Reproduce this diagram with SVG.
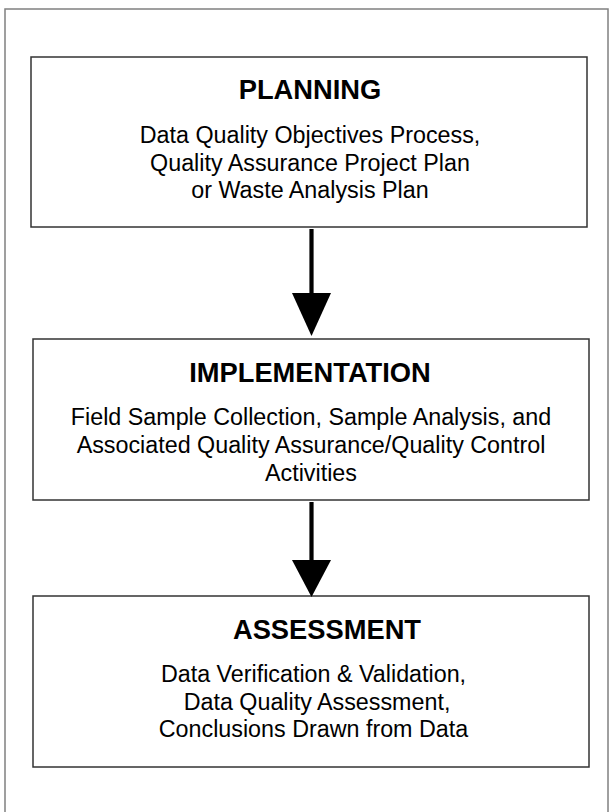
<svg xmlns="http://www.w3.org/2000/svg" width="613" height="812" viewBox="0 0 613 812">
<style>
.frame{fill:none;stroke:#808080;stroke-width:1.5}
.box{fill:#fff;stroke:#333;stroke-width:1.5}
.title{font-family:"Liberation Sans",Arial,sans-serif;font-weight:bold;font-size:27.3px;fill:#000;text-anchor:middle}
.body{font-family:"Liberation Sans",Arial,sans-serif;font-size:23.3px;fill:#000;text-anchor:middle}
.shaft{stroke:#000;stroke-width:4.2;fill:none}
.head{fill:#000}
</style>
<rect width="613" height="812" fill="#fff"/>
<rect class="frame" x="5" y="9" width="603" height="820"/>
<g id="planning">
<rect class="box" x="31" y="57" width="556" height="170"/>
<text class="title" x="310" y="99">PLANNING</text>
<text class="body" x="310" y="143">Data Quality Objectives Process,</text>
<text class="body" x="310" y="170.5">Quality Assurance Project Plan</text>
<text class="body" x="310" y="198">or Waste Analysis Plan</text>
</g>
<g id="implementation">
<rect class="box" x="33" y="339" width="556" height="161"/>
<text class="title" x="310" y="382">IMPLEMENTATION</text>
<text class="body" x="311" y="425">Field Sample Collection, Sample Analysis, and</text>
<text class="body" x="311" y="453">Associated Quality Assurance/Quality Control</text>
<text class="body" x="311" y="481">Activities</text>
</g>
<g id="assessment">
<rect class="box" x="33" y="596" width="556" height="171"/>
<text class="title" x="327" y="639">ASSESSMENT</text>
<text class="body" x="313.5" y="682">Data Verification &amp; Validation,</text>
<text class="body" x="317" y="709.5">Data Quality Assessment,</text>
<text class="body" x="313.5" y="737">Conclusions Drawn from Data</text>
</g>
<g id="connectors">
<line class="shaft" x1="311.5" y1="229" x2="311.5" y2="294"/>
<polygon class="head" points="292,293 331,293 311.5,336"/>
<line class="shaft" x1="311.5" y1="502" x2="311.5" y2="561"/>
<polygon class="head" points="292,560 331,560 311.5,597"/>
</g>
</svg>
